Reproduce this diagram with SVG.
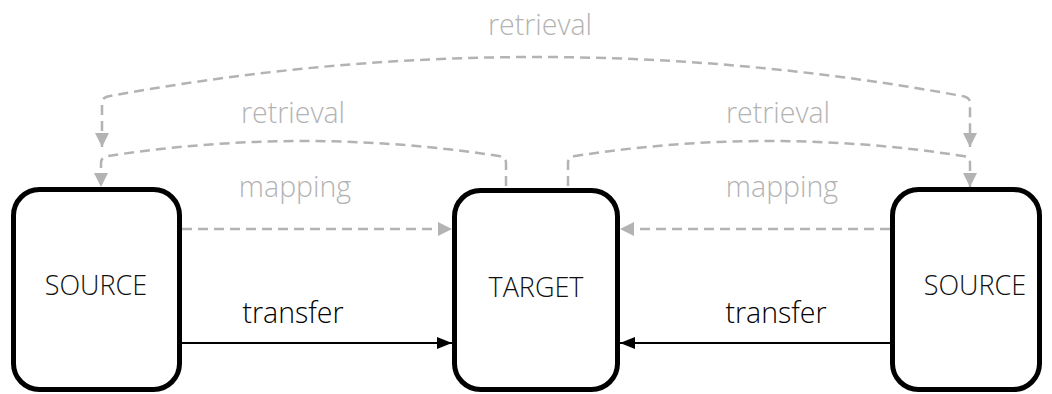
<svg xmlns="http://www.w3.org/2000/svg" width="1052" height="394" viewBox="0 0 1052 394">
  <style>
    .box { fill: #ffffff; stroke: #000000; stroke-width: 5; }
    .name { font-family: "Open Sans", "Liberation Sans", sans-serif; font-weight: 300; font-size: 27px; fill: #111111; text-anchor: middle; }
    .lbl { font-family: "Open Sans", "Liberation Sans", sans-serif; text-anchor: middle; font-weight: 300; font-size: 28.5px; }
    .gray { fill: #b3b3b3; }
    .black { fill: #000000; }
    .dash { fill: none; stroke: #b3b3b3; stroke-width: 2.5; stroke-dasharray: 10 6; }
    .solid { fill: none; stroke: #000000; stroke-width: 2; }
  </style>
  <defs>
    <marker id="grayHead" viewBox="0 0 14 14" refX="14" refY="7" markerWidth="14" markerHeight="14" markerUnits="userSpaceOnUse" orient="auto">
      <path d="M0,0 L14,7 L0,14 Z" fill="#b3b3b3"/>
    </marker>
    <marker id="grayHeadStart" viewBox="0 0 14 14" refX="14" refY="7" markerWidth="14" markerHeight="14" markerUnits="userSpaceOnUse" orient="auto-start-reverse">
      <path d="M0,0 L14,7 L0,14 Z" fill="#b3b3b3"/>
    </marker>
    <marker id="blackHead" viewBox="0 0 15 12" refX="15" refY="6" markerWidth="15" markerHeight="12" markerUnits="userSpaceOnUse" orient="auto">
      <path d="M0,0 L15,6 L0,12 Z" fill="#000000"/>
    </marker>
  </defs>

  <g id="connectors">
    <!-- outer retrieval: source to source, both ends -->
    <path class="dash" d="M102,147 V103 Q102,97 110,96 Q536,18 962,96 Q970,97 970,103 V147" marker-start="url(#grayHeadStart)" marker-end="url(#grayHead)"/>
    <!-- inner retrieval: target to left source -->
    <path class="dash" d="M506,186 V163 Q506,157 499,156 Q303,126 108,156 Q101,157 101,163 V187" marker-end="url(#grayHead)"/>
    <!-- inner retrieval: target to right source -->
    <path class="dash" d="M568,186 V163 Q568,157 575,156 Q769,126 963,156 Q970,157 970,163 V187" marker-end="url(#grayHead)"/>
    <!-- mapping -->
    <path class="dash" d="M182,229 H452" marker-end="url(#grayHead)"/>
    <path class="dash" d="M890,229 H620" marker-end="url(#grayHead)"/>
    <!-- transfer -->
    <path class="solid" d="M182,343 H452" marker-end="url(#blackHead)"/>
    <path class="solid" d="M890,343 H620" marker-end="url(#blackHead)"/>
  </g>

  <g id="labels">
    <text class="lbl gray" x="540" y="35">retrieval</text>
    <text class="lbl gray" x="293" y="123">retrieval</text>
    <text class="lbl gray" x="778" y="123">retrieval</text>
    <text class="lbl gray" x="295" y="197">mapping</text>
    <text class="lbl gray" x="782" y="197">mapping</text>
    <text class="lbl black" x="293" y="323">transfer</text>
    <text class="lbl black" x="776" y="323">transfer</text>
  </g>

  <g id="source-left">
    <rect class="box" x="13.5" y="189.5" width="166" height="200" rx="26"/>
    <text class="name" x="96" y="295">SOURCE</text>
  </g>
  <g id="target">
    <rect class="box" x="454.5" y="190.5" width="163" height="199" rx="26"/>
    <text class="name" x="536" y="297">TARGET</text>
  </g>
  <g id="source-right">
    <rect class="box" x="892.5" y="189.5" width="147" height="200" rx="26"/>
    <text class="name" x="975" y="295">SOURCE</text>
  </g>
</svg>
